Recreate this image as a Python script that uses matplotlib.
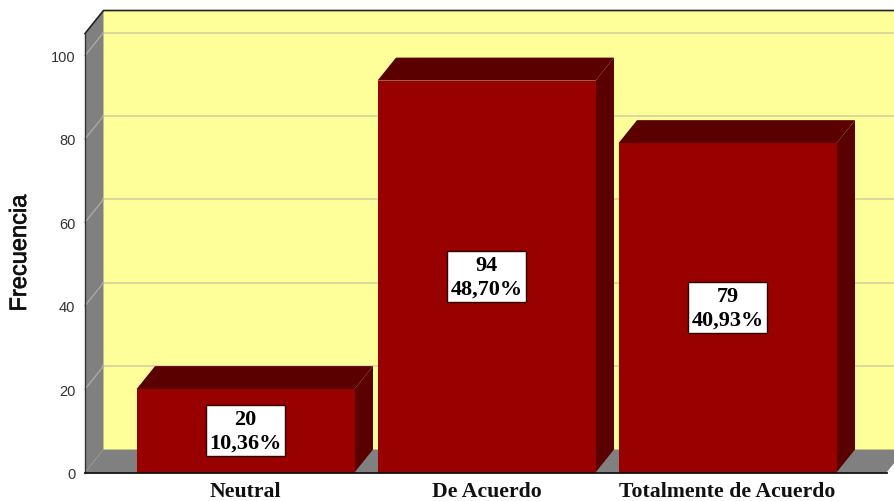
import matplotlib
matplotlib.use("Agg")
import matplotlib.pyplot as plt
import matplotlib.patheffects as pe
from matplotlib.patches import Polygon

categories = ["Neutral", "De Acuerdo", "Totalmente de Acuerdo"]
frequencies = [20, 94, 79]
percents = ["10,36%", "48,70%", "40,93%"]
y_ticks = [0, 20, 40, 60, 80, 100]

WALL = "#FFFF99"
GREY = "#808080"
BAR = "#990000"
BAR_DARK = "#5A0000"
GRID = "#CFCFA0"

W, H = 895, 502
bar_width = 218 / 241
dx = 18.5 / 241   # depth offset in x units
dy = 23 / 4.17    # depth offset in y units
x_min, x_max = -0.666, 2.695
x_end = 2.66
y_max = 105.3

fig = plt.figure(figsize=(W / 100, H / 100), dpi=100)
ax = fig.add_axes([85 / W, (H - 473.5) / H, (W - 85) / W, (473.5 - 34.5) / H])
ax.set_xlim(x_min, x_max)
ax.set_ylim(0, y_max)
for s in ax.spines.values():
    s.set_visible(False)
ax.patch.set_visible(False)


def poly(points, color, z, edge="none", lw=0):
    ax.add_patch(Polygon(points, closed=True, facecolor=color, edgecolor=edge,
                         linewidth=lw, zorder=z, clip_on=False))


wall_top = y_max
# walls
poly([(x_min + dx, dy), (x_end + dx, dy), (x_end + dx, wall_top + dy), (x_min + dx, wall_top + dy)], WALL, 1)
poly([(x_min, 0), (x_min + dx, dy), (x_min + dx, wall_top + dy), (x_min, wall_top)], GREY, 2)
poly([(x_min, 0), (x_end, 0), (x_end + dx, dy), (x_min + dx, dy)], GREY, 2)

# grid
for t in y_ticks[1:]:
    ax.plot([x_min + dx, x_end + dx], [t + dy, t + dy], color=GRID, lw=1.1, zorder=3, clip_on=False)
    ax.plot([x_min, x_min + dx], [t, t + dy], color="#A8A8A8", lw=1, zorder=3, clip_on=False)

# frame lines
ax.plot([x_min, x_end], [0, 0], color="#111111", lw=1.3, zorder=9, clip_on=False)
ax.plot([x_min, x_min], [0, wall_top], color="#333333", lw=1, zorder=4, clip_on=False)
ax.plot([x_min, x_min + dx, x_end + dx], [wall_top, wall_top + dy, wall_top + dy],
        color="#222222", lw=1.2, zorder=4, clip_on=False)

# bars
for i, v in enumerate(frequencies):
    l, r = i - bar_width / 2, i + bar_width / 2
    poly([(l, v), (r, v), (r + dx, v + dy), (l + dx, v + dy)], BAR_DARK, 5)
    poly([(r, 0), (r + dx, dy), (r + dx, v + dy), (r, v)], BAR_DARK, 5)
    ax.bar(i, v, width=bar_width, color=BAR, zorder=6, linewidth=0)
    ax.text(i, v / 2, f"{v}\n{percents[i]}", ha="center", va="center", fontsize=16,
            family="Liberation Serif", weight="bold", color="black", linespacing=1.22, zorder=10,
            bbox=dict(boxstyle="square,pad=0.17", fc="white", ec="#300000", lw=1))

ax.set_xticks(range(len(categories)))
ax.set_xticklabels(categories, family="Liberation Serif", weight="bold", fontsize=15.7, color="#111111")
ax.set_yticks(y_ticks)
ax.tick_params(axis="y", length=0, pad=7, labelsize=10.5, labelcolor="#333333")
ax.tick_params(axis="x", length=0, pad=6)
for lab in ax.get_yticklabels():
    lab.set_family("Liberation Sans")
ax.set_ylabel("Frecuencia", family="Liberation Sans", fontsize=17, color="#111111", va="center",
              path_effects=[pe.withStroke(linewidth=0.5, foreground="#111111")])
ax.yaxis.set_label_coords((20 - 85) / (W - 85), (473 - 253.5) / (473 - 34))

fig.savefig("out.png", dpi=100, facecolor="white")
